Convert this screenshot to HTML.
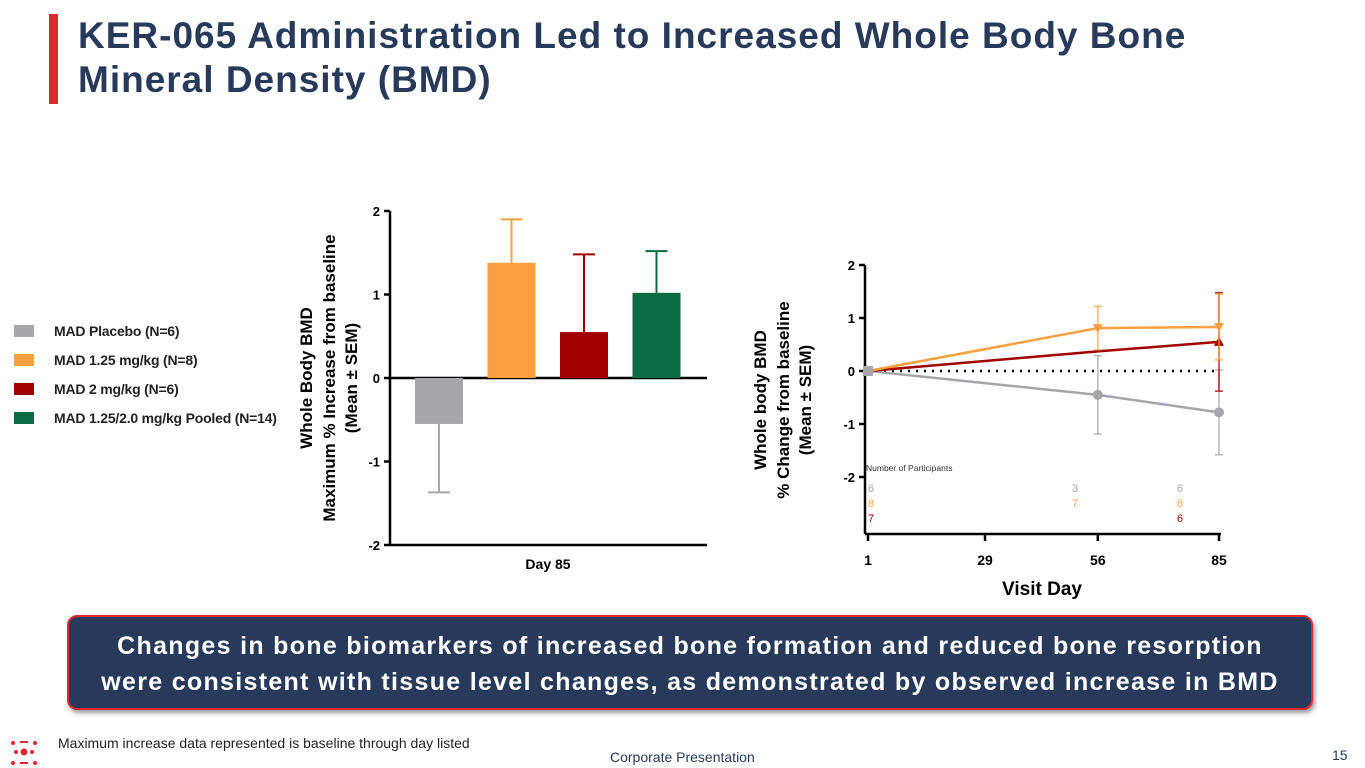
<!DOCTYPE html>
<html><head><meta charset="utf-8"><style>
body{margin:0;width:1365px;height:768px;background:#fff;overflow:hidden;position:relative;font-family:"Liberation Sans",sans-serif}
.title{position:absolute;left:78px;top:14px;font-size:37px;font-weight:bold;color:#273a5a;line-height:44px;letter-spacing:1px}
.redbar{position:absolute;left:49px;top:14px;width:9px;height:90px;background:#e0282e}
.legend{position:absolute;left:14px;top:316px;font-size:14px;font-weight:bold;color:#222;letter-spacing:-0.2px}
.legend div{height:29px;display:flex;align-items:center}
.legend span.sw{display:inline-block;width:20px;height:12px;margin-right:20px}
.callout{position:absolute;left:67px;top:615px;width:1246px;height:95px;background:#273a5a;border:2px solid #e0282e;border-radius:10px;color:#fff;font-size:25px;font-weight:bold;text-align:center;line-height:36px;box-sizing:border-box;padding-top:11px;box-shadow:2px 3px 5px rgba(0,0,0,.4);letter-spacing:1.3px;white-space:nowrap}
.foot{position:absolute;left:58px;top:735px;font-size:14px;color:#222}
.corp{position:absolute;left:610px;top:749px;font-size:14px;color:#273a5a}
.pg{position:absolute;left:1332px;top:747px;font-size:14px;color:#273a5a}
svg{position:absolute;left:0;top:0}
</style></head><body>
<div class="redbar"></div>
<div class="title">KER-065 Administration Led to Increased Whole Body Bone<br>Mineral Density (BMD)</div>
<div class="legend">
<div><span class="sw" style="background:#a6a6ab"></span>MAD Placebo (N=6)</div>
<div><span class="sw" style="background:#fba040"></span>MAD 1.25 mg/kg (N=8)</div>
<div><span class="sw" style="background:#a00000"></span>MAD 2 mg/kg (N=6)</div>
<div><span class="sw" style="background:#0b6b44"></span>MAD 1.25/2.0 mg/kg Pooled (N=14)</div>
</div>
<svg id="chart" width="1365" height="768"></svg>
<div class="callout">Changes in bone biomarkers of increased bone formation and reduced bone resorption<br>were consistent with tissue level changes, as demonstrated by observed increase in BMD</div>
<svg width="40" height="30" style="left:4px;top:738px">
<g fill="#e0282e"><circle cx="20" cy="14" r="3.5"/><circle cx="12" cy="14" r="2"/><circle cx="28" cy="14" r="2"/><rect x="16" y="3" width="8" height="2"/><rect x="16" y="24" width="8" height="2"/><circle cx="9" cy="5" r="2"/><circle cx="31" cy="5" r="2"/><circle cx="9" cy="25" r="2"/><circle cx="31" cy="25" r="2"/></g></svg>
<div class="foot">Maximum increase data represented is baseline through day listed</div>
<div class="corp">Corporate Presentation</div>
<div class="pg">15</div>
<script>
const barCats=["Placebo","1.25 mg/kg","2 mg/kg","Pooled"];
const barVals=[-0.55,1.38,0.55,1.02];
const barErr=[0.82,0.52,0.93,0.50];
const barColors=["#a6a6ab","#fba040","#a00000","#0b6b44"];
const barTicks=[2,1,0,-1,-2];
const lineDays=[1,56,85];
const lineTicksX=[1,29,56,85];
const lineTicksY=[2,1,0,-1,-2];
const placeboVals=[0,-0.45,-0.78];
const placeboErr=[0,0.74,0.80];
const lowVals=[0,0.81,0.83];
const lowErr=[0,0.41,0.62];
const highVals=[0,0.37,0.55];
const highErr=[0,0,0.93];
const nPlacebo=["6","3","6"];
const nLow=["8","7","8"];
const nHigh=["7","","6"];
const NS="http://www.w3.org/2000/svg";
const svg=document.getElementById('chart');
function mk(t,a,txt){const e=document.createElementNS(NS,t);for(const k in a)e.setAttribute(k,a[k]);if(txt!==undefined)e.textContent=txt;svg.appendChild(e);return e;}
const by=v=>378-v*83.5;
const bx=i=>415+i*72.5;
let e=mk('line',{x1:390,y1:by(2),x2:390,y2:by(-2),stroke:'#000','stroke-width':2.5});

e=mk('line',{x1:390,y1:by(-2),x2:707,y2:by(-2),stroke:'#000','stroke-width':2.5});

mk('line',{x1:390,y1:by(0),x2:707,y2:by(0),stroke:'#000','stroke-width':2.5});
barTicks.forEach(t=>{mk('line',{x1:384,y1:by(t),x2:390,y2:by(t),stroke:'#000','stroke-width':2.5});
e=mk('text',{x:380,y:by(t)+5,'text-anchor':'end','font-size':13,'font-weight':'bold'},String(t));
});
barVals.forEach((v,i)=>{const x=bx(i),w=48;const y0=by(0),y1=by(v);
const tip=by(v+(v>=0?barErr[i]:-barErr[i]));const cx=x+w/2;
mk('line',{x1:cx,y1:y1,x2:cx,y2:tip,stroke:barColors[i],'stroke-width':2});
mk('line',{x1:cx-11,y1:tip,x2:cx+11,y2:tip,stroke:barColors[i],'stroke-width':2});
e=mk('rect',{x:x,y:Math.min(y0,y1),width:w,height:Math.abs(y1-y0),fill:barColors[i]});
});
e=mk('text',{x:548,y:569,'text-anchor':'middle','font-size':14,'font-weight':'bold'},'Day 85');

const bt=[["Whole Body BMD",312],["Maximum % Increase from baseline",335],["(Mean ± SEM)",357]];
bt.forEach(([t,x])=>{e=mk('text',{x:x,y:378,'text-anchor':'middle','font-size':17,'font-weight':'bold',transform:`rotate(-90 ${x} 378)`},t);
});
const ly=v=>371-v*53;
const lx=d=>868+(d-1)*(351/84);
e=mk('line',{x1:865,y1:ly(2),x2:865,y2:534,stroke:'#000','stroke-width':2.5});

e=mk('line',{x1:865,y1:534,x2:1221,y2:534,stroke:'#000','stroke-width':2.5});

lineTicksY.forEach(t=>{mk('line',{x1:859,y1:ly(t),x2:865,y2:ly(t),stroke:'#000','stroke-width':2.5});
e=mk('text',{x:855,y:ly(t)+5,'text-anchor':'end','font-size':13,'font-weight':'bold'},String(t));
});
lineTicksX.forEach(t=>{mk('line',{x1:lx(t),y1:534,x2:lx(t),y2:541,stroke:'#000','stroke-width':2.5});
e=mk('text',{x:lx(t),y:565,'text-anchor':'middle','font-size':14,'font-weight':'bold'},String(t));
});
e=mk('line',{x1:868,y1:ly(0),x2:1219,y2:ly(0),stroke:'#000','stroke-width':2.5,'stroke-dasharray':'2 6'});

function series(vals,err,col,name,marker){
const pts=vals.map((v,i)=>lx(lineDays[i])+','+ly(v)).join(' ');
vals.forEach((v,i)=>{if(err[i]>0){const x=lx(lineDays[i]);
mk('line',{x1:x,y1:ly(v-err[i]),x2:x,y2:ly(v+err[i]),stroke:col,'stroke-width':1.5,opacity:.8});
[v-err[i],v+err[i]].forEach(q=>mk('line',{x1:x-4,y1:ly(q),x2:x+4,y2:ly(q),stroke:col,'stroke-width':1.5,opacity:.8}));}});
const p=mk('polyline',{points:pts,fill:'none',stroke:col,'stroke-width':2.5});

vals.forEach((v,i)=>{const x=lx(lineDays[i]),y=ly(v);if(marker==='c'&&i>0)mk('circle',{cx:x,cy:y,r:5,fill:col});
else if(marker==='t'&&i>0)mk('path',{d:`M${x-5} ${y-4}L${x+5} ${y-4}L${x} ${y+5}Z`,fill:col});
else if(marker==='u'&&i===2)mk('path',{d:`M${x-5} ${y+4}L${x+5} ${y+4}L${x} ${y-5}Z`,fill:col});});}
series(placeboVals,placeboErr,'#a6a6ab','line-placebo','c');
series(highVals,highErr,'#a00000','line-2mg','u');
series(lowVals,lowErr,'#fba040','line-1-25mg','t');
mk('rect',{x:863,y:ly(0)-5,width:10,height:10,fill:'#a6a6ab'});
e=mk('text',{x:866,y:471,'font-size':8.5,fill:'#333'},'Number of Participants');

const nx=[868,1072,1177];
[[nPlacebo,'#a6a6ab',492],[nLow,'#fba040',507],[nHigh,'#a00000',522]].forEach(([arr,c,y])=>arr.forEach((t,i)=>{if(t){e=mk('text',{x:nx[i],y:y,'font-size':11,fill:c},t);
}}));
e=mk('text',{x:1042,y:595,'text-anchor':'middle','font-size':19,'font-weight':'bold'},'Visit Day');

const lt=[["Whole body BMD",766],["% Change from baseline",789],["(Mean ± SEM)",811]];
lt.forEach(([t,x])=>{e=mk('text',{x:x,y:400,'text-anchor':'middle','font-size':17,'font-weight':'bold',transform:`rotate(-90 ${x} 400)`},t);
});
</script>
</body></html>
